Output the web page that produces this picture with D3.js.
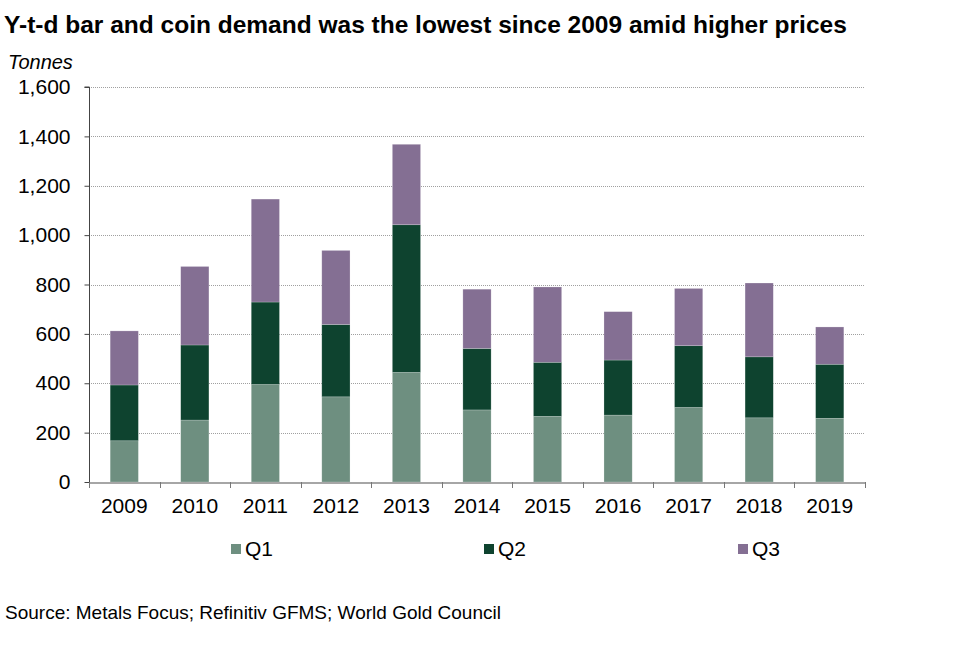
<!DOCTYPE html>
<html>
<head>
<meta charset="utf-8">
<script src="https://cdn.jsdelivr.net/npm/d3@7"></script>
<style>
  body { margin: 0; background: #fff; }
  svg { display: block; font-family: "Liberation Sans", Arial, sans-serif; }
</style>
</head>
<body>
<svg id="chart" width="974" height="650"></svg>
<script>
const years = ["2009","2010","2011","2012","2013","2014","2015","2016","2017","2018","2019"];
const q1 = [167, 251, 395, 345, 444, 292, 266, 271, 302, 260, 258];
const q2 = [226, 304, 334, 293, 598, 249, 219, 223, 250, 247, 219];
const q3 = [219, 318, 417, 300, 326, 240, 305, 196, 232, 299, 151];
const seriesNames = ["Q1", "Q2", "Q3"];
const seriesColors = ["#6e8f80", "#0e432f", "#846f93"];
const yTicks = [0, 200, 400, 600, 800, 1000, 1200, 1400, 1600];

const title = "Y-t-d bar and coin demand was the lowest since 2009 amid higher prices";
const unitLabel = "Tonnes";
const source = "Source: Metals Focus; Refinitiv GFMS; World Gold Council";

const svg = d3.select("#chart");
const m = { left: 89, right: 865, top: 87, bottom: 482 };

const rows = years.map((y, i) => ({ year: y, Q1: q1[i], Q2: q2[i], Q3: q3[i] }));
const stacked = d3.stack().keys(seriesNames)(rows);

const x = d3.scaleBand().domain(years).range([m.left, m.right]).paddingInner(0.6).paddingOuter(0.3);
const y = d3.scaleLinear().domain([0, 1600]).range([m.bottom, m.top]);

// Title
svg.append("text").attr("x", 4).attr("y", 33)
  .attr("font-weight", "bold").attr("font-size", 24.5).attr("fill", "#000")
  .text(title);

svg.append("text").attr("x", 8).attr("y", 69)
  .attr("font-style", "italic").attr("font-size", 20).attr("fill", "#000")
  .text(unitLabel);

// Gridlines
svg.append("g").selectAll("line").data(yTicks.filter(d => d > 0)).join("line")
  .attr("x1", m.left).attr("x2", m.right)
  .attr("y1", d => Math.round(y(d)) + 0.5).attr("y2", d => Math.round(y(d)) + 0.5)
  .attr("stroke", "#a0a0a0").attr("stroke-width", 1).attr("stroke-dasharray", "1,1");

// Bars
svg.append("g").selectAll("g").data(stacked).join("g")
  .attr("fill", (d, i) => seriesColors[i])
  .selectAll("rect").data(d => d).join("rect")
  .attr("x", d => x(d.data.year))
  .attr("width", x.bandwidth())
  .attr("y", d => y(d[1]))
  .attr("height", d => y(d[0]) - y(d[1]))
  .attr("stroke", "rgba(255,255,255,0.35)").attr("stroke-width", 0.6);

// Y axis
const yAxis = d3.axisLeft(y).tickValues(yTicks).tickSize(5).tickPadding(14)
  .tickFormat(d3.format(","));
const gy = svg.append("g").attr("transform", `translate(${m.left + 0.5},0)`).call(yAxis);
gy.select(".domain").attr("stroke", "#444").attr("d", `M-5,${y(1600)}H0V${y(0)}`);
gy.selectAll(".tick line").attr("stroke", "#444");
gy.selectAll(".tick text").attr("font-size", 21).attr("fill", "#000")
  .attr("font-family", "Liberation Sans, Arial, sans-serif");

// X axis
const xAxis = d3.axisBottom(x).tickSize(0).tickPadding(16);
const gx = svg.append("g").attr("transform", `translate(0,${m.bottom + 0.5})`).call(xAxis);
gx.select(".domain").attr("stroke", "#888").attr("stroke-width", 1.5);
gx.selectAll(".tick text").attr("font-size", 21).attr("fill", "#000")
  .attr("font-family", "Liberation Sans, Arial, sans-serif");
// category separator ticks
const step = x.step();
const sepX = d3.range(years.length + 1).map(i => m.left + i * step);
svg.append("g").selectAll("line").data(sepX).join("line")
  .attr("x1", d => Math.round(d) + 0.5).attr("x2", d => Math.round(d) + 0.5)
  .attr("y1", m.bottom).attr("y2", m.bottom + 6)
  .attr("stroke", "#777").attr("stroke-width", 1);

// Legend
const legendX = [231, 484, 738];
const lg = svg.append("g").selectAll("g").data(seriesNames).join("g")
  .attr("transform", (d, i) => `translate(${legendX[i]},544)`);
lg.append("rect").attr("width", 10).attr("height", 10).attr("fill", (d, i) => seriesColors[i]);
lg.append("text").attr("x", 14).attr("y", 12).attr("font-size", 21).attr("fill", "#000").text(d => d);

// Source
svg.append("text").attr("x", 5).attr("y", 619).attr("font-size", 19).attr("fill", "#000")
  .text(source);
</script>
</body>
</html>
